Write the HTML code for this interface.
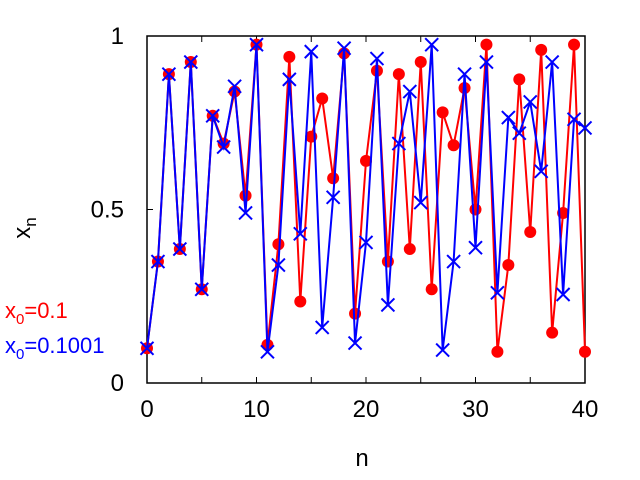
<!DOCTYPE html>
<html><head><meta charset="utf-8"><style>
body{margin:0;background:#fff;}
svg{display:block;font-family:"Liberation Sans","DejaVu Sans",sans-serif;}
</style></head><body>
<svg id="chart" width="640" height="480" viewBox="0 0 640 480">
<rect x="147" y="36" width="438" height="347" fill="none" stroke="#000" stroke-width="1.5"/>
<g id="ticks"></g>
<g id="series"></g>
<text x="30" y="228" font-size="24" text-anchor="middle" transform="rotate(-90 30 228)">x<tspan font-size="17" dy="6">n</tspan></text>
<text x="362" y="466" font-size="24" text-anchor="middle">n</text>
<text x="5" y="318" font-size="22" fill="#ff0000">x<tspan font-size="15" dy="6">0</tspan><tspan dy="-6">=0.1</tspan></text>
<text x="5" y="353" font-size="22" fill="#0000ff">x<tspan font-size="15" dy="6">0</tspan><tspan dy="-6">=0.1001</tspan></text>
</svg>
<script>
const nValues=[0,1,2,3,4,5,6,7,8,9,10,11,12,13,14,15,16,17,18,19,20,21,22,23,24,25,26,27,28,29,30,31,32,33,34,35,36,37,38,39,40];
const seriesRed=[0.1,0.35,0.89,0.386,0.925,0.27,0.77,0.69,0.84,0.54,0.975,0.11,0.4,0.94,0.235,0.71,0.82,0.59,0.95,0.2,0.64,0.9,0.35,0.89,0.386,0.925,0.27,0.78,0.685,0.85,0.5,0.975,0.09,0.34,0.875,0.435,0.96,0.145,0.49,0.975,0.09];
const seriesBlue=[0.1,0.35,0.89,0.386,0.925,0.27,0.77,0.68,0.855,0.49,0.975,0.09,0.34,0.875,0.43,0.955,0.16,0.535,0.965,0.115,0.405,0.935,0.225,0.69,0.84,0.52,0.975,0.095,0.35,0.89,0.39,0.925,0.26,0.765,0.72,0.81,0.61,0.925,0.255,0.76,0.735];
const xTicks=[0,10,20,30,40];
const xMinorTicks=[0,5,10,15,20,25,30,35,40];
const yTicks=[0,0.5,1];
const yTickLabels=["0","0.5","1"];
const NS="http://www.w3.org/2000/svg";
const X0=147,X1=585,Y0=383,Y1=36;
function sx(n){return X0+(n-0)/(40-0)*(X1-X0);}
function sy(v){return Y0-(v-0)/(1-0)*(Y0-Y1);}
function mk(tag,attrs,parent){const e=document.createElementNS(NS,tag);for(const k in attrs)e.setAttribute(k,attrs[k]);parent.appendChild(e);return e;}
const tg=document.getElementById('ticks');
xMinorTicks.forEach(t=>{
 const a=mk('line',{x1:sx(t),x2:sx(t),y1:Y0,y2:Y0-6,stroke:'#000'},tg);
 
 
 const b=mk('line',{x1:sx(t),x2:sx(t),y1:Y1,y2:Y1+6,stroke:'#000'},tg);
 
 
});
xTicks.forEach(t=>{
 const l=mk('text',{x:sx(t),y:417,'font-size':24,'text-anchor':'middle'},tg);
 l.textContent=String(t);
 
 
});
yTicks.forEach((t,i)=>{
 const a=mk('line',{x1:X0,x2:X0+6,y1:sy(t),y2:sy(t),stroke:'#000'},tg);
 
 
 const l=mk('text',{x:124,y:sy(t)+8,'font-size':24,'text-anchor':'end'},tg);
 l.textContent=yTickLabels[i];
 
 
});
const sg=document.getElementById('series');
const pr=mk('polyline',{points:nValues.map((n,i)=>sx(n)+','+sy(seriesRed[i])).join(' '),fill:'none',stroke:'#ff0000','stroke-width':2},sg);


nValues.forEach((n,i)=>{
 const c=mk('circle',{cx:sx(n),cy:sy(seriesRed[i]),r:6,fill:'#ff0000'},sg);
 
 
});
const pb=mk('polyline',{points:nValues.map((n,i)=>sx(n)+','+sy(seriesBlue[i])).join(' '),fill:'none',stroke:'#0000ff','stroke-width':2},sg);


nValues.forEach((n,i)=>{
 const x=sx(n),y=sy(seriesBlue[i]),s=6.5;
 const p=mk('path',{d:`M${x-s},${y-s}L${x+s},${y+s}M${x-s},${y+s}L${x+s},${y-s}`,stroke:'#0000ff','stroke-width':2,fill:'none'},sg);
 
 
});
</script>
</body></html>
